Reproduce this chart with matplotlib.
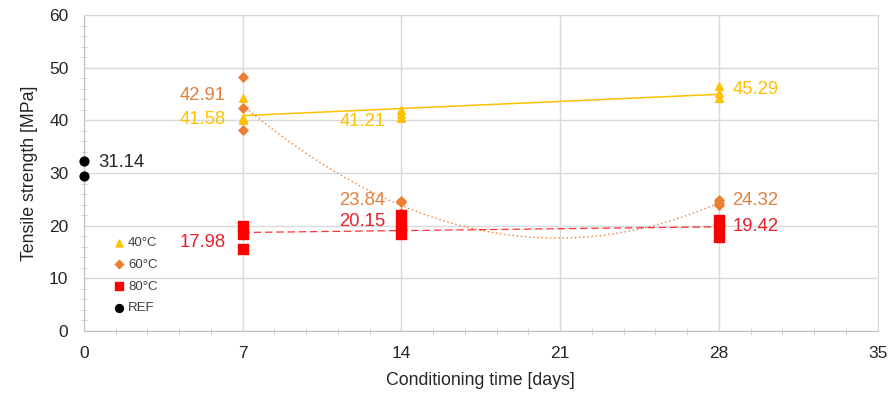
import numpy as np
import matplotlib.pyplot as plt
from matplotlib.ticker import MultipleLocator

plt.rcParams['font.family'] = ['Liberation Sans', 'DejaVu Sans']

# ==== Data ====
days = [7, 14, 28]
t40 = [[44.3, 40.4, 40.0], [42.0, 41.2, 40.4], [46.5, 45.2, 44.2]]
t60 = [[48.2, 42.3, 38.2], [24.6, 24.4, 22.5], [24.8, 24.3, 23.9]]
t80 = [[20.0, 18.5, 15.5], [22.0, 20.0, 18.5], [21.0, 19.5, 17.8]]
ref_x = [0, 0]
ref_y = [32.2, 29.5]

mean40 = [41.58, 41.21, 45.29]
mean60 = [42.91, 23.84, 24.32]
mean80 = [17.98, 20.15, 19.42]
ref_mean = 31.14

c40 = '#FFC000'
c60 = '#ED7D31'
c80 = '#FF0000'
c60_txt = '#E08040'
c80_txt = '#E8202E'

fig = plt.figure(figsize=(8.91, 4.0), dpi=100)
ax = fig.add_axes([0.094, 0.1725, 0.891, 0.79])

grid_c = '#D9D9D9'
ax.set_xlim(0, 35)
ax.set_ylim(0, 60)
ax.xaxis.set_major_locator(MultipleLocator(7))
ax.xaxis.set_minor_locator(MultipleLocator(1.4))
ax.yaxis.set_major_locator(MultipleLocator(10))
ax.yaxis.set_minor_locator(MultipleLocator(2))
ax.grid(True, which='major', color=grid_c, lw=1)
ax.set_axisbelow(True)
for s in ['top', 'right']:
    ax.spines[s].set_color(grid_c)
for s in ['left', 'bottom']:
    ax.spines[s].set_color('#BFBFBF')
ax.tick_params(which='major', length=0, labelsize=12.5, colors='#262626', pad=11)
ax.tick_params(which='minor', direction='inout', length=5, color='#C8C8C8')
ax.tick_params(which='minor', top=False, right=False)

# trend lines
xs = np.linspace(7, 28, 200)
p40 = np.polyfit(days, mean40, 1)
ax.plot(xs, np.polyval(p40, xs), color=c40, lw=1.1, zorder=2)
p60 = np.polyfit(days, mean60, 2)
ax.plot(xs, np.polyval(p60, xs), color=c60, lw=1.0, ls=(0, (1, 2)), zorder=2)
p80 = np.polyfit(days, mean80, 1)
ax.plot(xs, np.polyval(p80, xs), color=c80, lw=0.9, ls=(0, (6, 3)), zorder=2, alpha=0.8)

# points
for d, a, b, c in zip(days, t40, t60, t80):
    ax.scatter([d] * 3, b, marker='D', s=22, color=c60, zorder=3, clip_on=False)
    ax.scatter([d] * 3, c, marker='s', s=45, color=c80, zorder=4, clip_on=False)
    ax.scatter([d] * 3, a, marker='^', s=30, color=c40, zorder=5, clip_on=False)
ax.scatter(ref_x, ref_y, marker='o', s=40, color='black', zorder=5, clip_on=False)

# legend proxies
ax.scatter([], [], marker='^', s=30, color=c40, label='40°C')
ax.scatter([], [], marker='D', s=22, color=c60, label='60°C')
ax.scatter([], [], marker='s', s=45, color=c80, label='80°C')
ax.scatter([], [], marker='o', s=40, color='black', label='REF')
ax.legend(loc='lower left', bbox_to_anchor=(0.02, 0.015), frameon=False,
          fontsize=9.5, handletextpad=0.05, labelspacing=0.72, handlelength=1.2,
          markerscale=0.9, labelcolor='#404040')

# value labels
fs = 13.3
ax.text(6.25, mean60[0] + 1.8, f'{mean60[0]:.2f}', color=c60_txt, fontsize=fs, ha='right', va='center')
ax.text(6.25, mean40[0] - 1.5, f'{mean40[0]:.2f}', color=c40, fontsize=fs, ha='right', va='center')
ax.text(6.25, mean80[0] - 1.1, f'{mean80[0]:.2f}', color=c80_txt, fontsize=fs, ha='right', va='center')
ax.text(0.65, ref_mean + 0.8, f'{ref_mean:.2f}', color='#262626', fontsize=fs, ha='left', va='center')
ax.text(13.3, mean40[1] - 1.4, f'{mean40[1]:.2f}', color=c40, fontsize=fs, ha='right', va='center')
ax.text(13.3, mean60[1] + 0.9, f'{mean60[1]:.2f}', color=c60_txt, fontsize=fs, ha='right', va='center')
ax.text(13.3, mean80[1] + 0.6, f'{mean80[1]:.2f}', color=c80_txt, fontsize=fs, ha='right', va='center')
ax.text(28.6, mean40[2] + 0.5, f'{mean40[2]:.2f}', color=c40, fontsize=fs, ha='left', va='center')
ax.text(28.6, mean60[2] + 0.5, f'{mean60[2]:.2f}', color=c60_txt, fontsize=fs, ha='left', va='center')
ax.text(28.6, mean80[2] + 0.4, f'{mean80[2]:.2f}', color=c80_txt, fontsize=fs, ha='left', va='center')

ax.set_xlabel('Conditioning time [days]', fontsize=12.8, color='#262626', labelpad=8)
ax.set_ylabel('Tensile strength [MPa]', fontsize=12.8, color='#262626', labelpad=8)

fig.savefig('out.png', dpi=100)
